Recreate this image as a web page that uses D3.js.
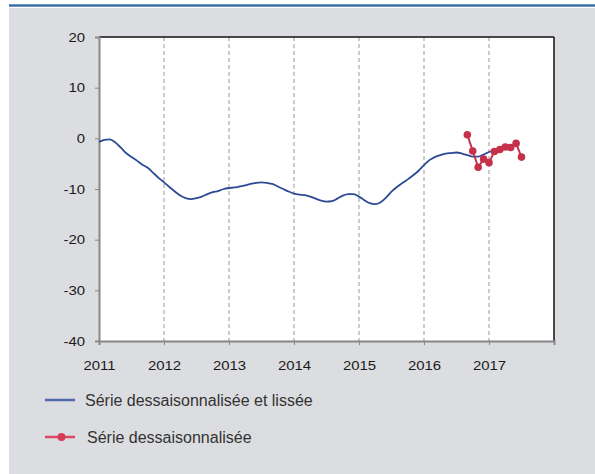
<!DOCTYPE html>
<html>
<head>
<meta charset="utf-8">
<script src="https://d3js.org/d3.v7.min.js"></script>
<style>
  body { margin: 0; background: #fff; }
  text { font-family: "Liberation Sans", Arial, sans-serif; }
</style>
</head>
<body>
<script>
// data (monthly, from jan 2011)
const startYear = 2011;
const smoothValues = [
  -0.7, -0.3, -0.2, -0.8, -1.8, -2.9, -3.7, -4.4, -5.2, -5.8, -6.8, -7.8,
  -8.7, -9.6, -10.5, -11.3, -11.8, -12.0, -11.8, -11.5, -11.0, -10.6, -10.4, -10.0,
  -9.8, -9.7, -9.5, -9.3, -9.0, -8.8, -8.7, -8.8, -9.0, -9.5, -10.0, -10.5,
  -10.9, -11.1, -11.2, -11.5, -11.9, -12.3, -12.5, -12.4, -11.9, -11.3, -11.0, -11.0,
  -11.5, -12.2, -12.8, -13.0, -12.6, -11.7, -10.5, -9.6, -8.8, -8.1, -7.3, -6.4,
  -5.3, -4.3, -3.7, -3.3, -3.0, -2.9, -2.8, -3.0, -3.3, -3.6, -3.6, -3.2,
  -2.7, -2.3
];
// raw series, sep 2016 -> jul 2017
const rawStart = 68; // months after jan 2011
const rawValues = [0.7, -2.5, -5.7, -4.1, -4.8, -2.6, -2.2, -1.7, -1.8, -1.0, -3.7];

const yTicks = [20, 10, 0, -10, -20, -30, -40];
const xYears = [2011, 2012, 2013, 2014, 2015, 2016, 2017];
const legendLabels = ["Série dessaisonnalisée et lissée", "Série dessaisonnalisée"];

const W = 595, H = 474;
const pLeft = 99, pRight = 554, pTop = 37, pBottom = 341;
const stretch = 1.15; // labels look a bit wide in the original

const svg = d3.select("body").append("svg").attr("width", W).attr("height", H);

// background
svg.append("rect").attr("x", 9).attr("y", 8).attr("width", W - 9).attr("height", H - 8).attr("fill", "#dcdde0");
svg.append("line").attr("x1", 9).attr("x2", W).attr("y1", 5.5).attr("y2", 5.5)
  .attr("stroke", "#3d6ea8").attr("stroke-width", 2.5);

const x = d3.scaleLinear().domain([2011, 2018]).range([pLeft, pRight]);
const y = d3.scaleLinear().domain([-40, 20]).range([pBottom, pTop]);

svg.append("rect").attr("x", pLeft).attr("y", pTop).attr("width", pRight - pLeft).attr("height", pBottom - pTop)
  .attr("fill", "#fff");

// dashed year lines
svg.selectAll(".grid").data(xYears.slice(1)).enter().append("line")
  .attr("x1", d => x(d)).attr("x2", d => x(d))
  .attr("y1", pTop).attr("y2", pBottom)
  .attr("stroke", "#999").attr("stroke-dasharray", "4,3").attr("stroke-width", 1);

// frame: top + right black
svg.append("line").attr("x1", pLeft).attr("x2", pRight).attr("y1", pTop).attr("y2", pTop)
  .attr("stroke", "#111").attr("stroke-width", 1.5);
svg.append("line").attr("x1", pRight).attr("x2", pRight).attr("y1", pTop).attr("y2", pBottom)
  .attr("stroke", "#111").attr("stroke-width", 1.5);

// left axis
const yAxis = svg.append("g").attr("transform", `translate(${pLeft},0)`)
  .call(d3.axisLeft(y).tickValues(yTicks).tickSize(4).tickPadding(10).tickFormat(d => String(d)));
yAxis.select(".domain").attr("stroke", "#888").attr("stroke-width", 2);
yAxis.selectAll(".tick line").attr("stroke", "#888");
yAxis.selectAll("text").attr("font-size", 13).attr("fill", "#1a1a1a")
  .attr("x", -14 / stretch).attr("transform", `scale(${stretch},1)`)
  .style("font-family", "Liberation Sans, Arial, sans-serif");

// bottom axis
const xAxis = svg.append("g").attr("transform", `translate(0,${pBottom})`)
  .call(d3.axisBottom(x).tickValues(xYears.concat([2018])).tickSize(4).tickPadding(16)
    .tickFormat(d => d === 2018 ? "" : String(d)));
xAxis.select(".domain").attr("stroke", "#888").attr("stroke-width", 2);
xAxis.selectAll(".tick line").attr("stroke", "#888");
xAxis.selectAll("text").attr("font-size", 13).attr("fill", "#1a1a1a")
  .attr("transform", `scale(${stretch},1)`)
  .style("font-family", "Liberation Sans, Arial, sans-serif");

const monthX = i => x(startYear + i / 12);

// smoothed line
svg.append("path").datum(smoothValues)
  .attr("fill", "none").attr("stroke", "#2a4b94").attr("stroke-width", 1.8)
  .attr("d", d3.line().x((d, i) => monthX(i)).y(d => y(d)).curve(d3.curveMonotoneX));

// raw series
svg.append("path").datum(rawValues)
  .attr("fill", "none").attr("stroke", "#c6304a").attr("stroke-width", 2)
  .attr("d", d3.line().x((d, i) => monthX(rawStart + i)).y(d => y(d)));
svg.selectAll(".pt").data(rawValues).enter().append("circle")
  .attr("cx", (d, i) => monthX(rawStart + i)).attr("cy", d => y(d))
  .attr("r", 3.8).attr("fill", "#c6304a");

// legend
const leg = svg.append("g");
leg.append("line").attr("x1", 45).attr("x2", 75).attr("y1", 400).attr("y2", 400)
  .attr("stroke", "#5068ac").attr("stroke-width", 2.5);
leg.append("text").attr("x", 85).attr("y", 405.5).attr("font-size", 16).attr("fill", "#333")
  .text(legendLabels[0]);
leg.append("line").attr("x1", 45).attr("x2", 75).attr("y1", 437).attr("y2", 437)
  .attr("stroke", "#dc4a63").attr("stroke-width", 2.5);
leg.append("circle").attr("cx", 61.5).attr("cy", 437).attr("r", 4).attr("fill", "#d53d57");
leg.append("text").attr("x", 87).attr("y", 442.5).attr("font-size", 16).attr("fill", "#333")
  .text(legendLabels[1]);
</script>
</body>
</html>
